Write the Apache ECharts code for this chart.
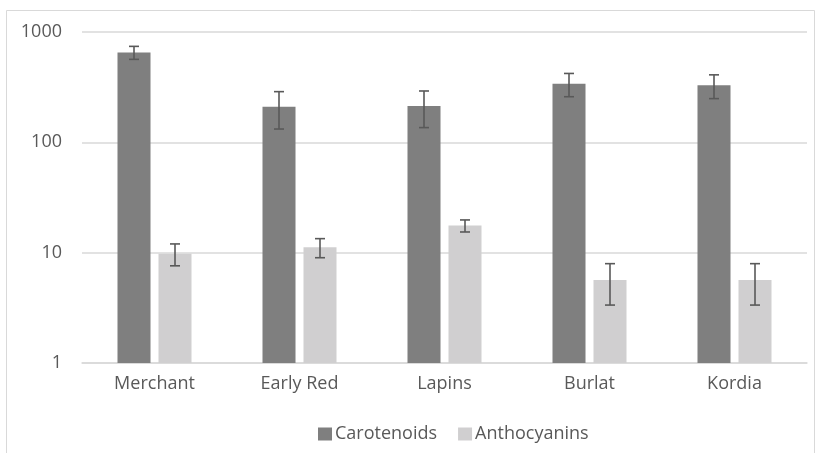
<!DOCTYPE html>
<html>
<head>
<meta charset="utf-8">
<script src="https://cdn.jsdelivr.net/npm/echarts@6/dist/echarts.min.js"></script>
<style>
  html, body { margin: 0; padding: 0; background: #fff; }
  #chart { width: 822px; height: 453px; }
</style>
</head>
<body>
<div id="chart"></div>
<script>
// Cultivars and measured pigment contents (log scale), with standard deviations
const categories = ['Merchant', 'Early Red', 'Lapins', 'Burlat', 'Kordia'];
const carotenoids = [653, 210, 214, 340, 329];
const carotenoidsSd = [88, 78, 78, 81, 80];
const anthocyanins = [9.8, 11.2, 17.6, 5.65, 5.65];
const anthocyaninsSd = [2.2, 2.2, 2.2, 2.3, 2.3];
const yTicks = [1, 10, 100, 1000];

const FONT = '"Open Sans", sans-serif';
const TEXT = '#595959';
const BAR_W = 33;
const BAR_GAP = 8;

function errorSeries(name, means, sds, side) {
  return {
    type: 'custom',
    name: name + ' SD',
    z: 5,
    silent: true,
    data: means.map((m, i) => [i, m - sds[i], m + sds[i]]),
    renderItem: function (params, api) {
      const idx = api.value(0);
      const lo = api.coord([idx, api.value(1)]);
      const hi = api.coord([idx, api.value(2)]);
      const x = lo[0] + side * (BAR_W + BAR_GAP) / 2;
      const cap = 5;
      const style = { stroke: '#595959', lineWidth: 1.6 };
      return {
        type: 'group',
        children: [
          { type: 'line', shape: { x1: x, y1: hi[1], x2: x, y2: lo[1] }, style: style },
          { type: 'line', shape: { x1: x - cap, y1: hi[1], x2: x + cap, y2: hi[1] }, style: style },
          { type: 'line', shape: { x1: x - cap, y1: lo[1], x2: x + cap, y2: lo[1] }, style: style }
        ]
      };
    }
  };
}

const chart = echarts.init(document.getElementById('chart'), null, { renderer: 'canvas' });
chart.setOption({
  animation: false,
  backgroundColor: '#fff',
  graphic: [{
    type: 'rect',
    shape: { x: 6.5, y: 10.5, width: 808, height: 460 },
    style: { fill: 'none', stroke: '#d9d9d9', lineWidth: 1 },
    silent: true
  }],
  grid: { left: 82, right: 15, top: 32, bottom: 90 },
  legend: {
    left: 313,
    top: 420,
    itemWidth: 14,
    itemHeight: 13,
    itemGap: 21,
    icon: 'rect',
    data: ['Carotenoids', 'Anthocyanins'],
    textStyle: { fontFamily: FONT, fontSize: 18, color: TEXT, padding: [0, 0, 0, -2] }
  },
  xAxis: {
    type: 'category',
    data: categories,
    axisLine: { lineStyle: { color: '#d9d9d9', width: 1.5 } },
    axisTick: { show: false },
    axisLabel: { fontFamily: FONT, fontSize: 18, color: TEXT, margin: 12 }
  },
  yAxis: {
    type: 'log',
    logBase: 10,
    min: yTicks[0],
    max: yTicks[yTicks.length - 1],
    axisLine: { show: false },
    axisTick: { show: false },
    splitLine: { lineStyle: { color: '#d9d9d9', width: 1.5 } },
    axisLabel: {
      fontFamily: FONT, fontSize: 18, color: TEXT, margin: 20,
      formatter: v => (yTicks.indexOf(v) >= 0 ? String(v) : '')
    }
  },
  series: [
    {
      name: 'Carotenoids', type: 'bar', data: carotenoids,
      barWidth: BAR_W, barGap: (BAR_GAP / BAR_W * 100) + '%',
      itemStyle: { color: '#7f7f7f' }
    },
    {
      name: 'Anthocyanins', type: 'bar', data: anthocyanins,
      barWidth: BAR_W,
      itemStyle: { color: '#d0cfd0' }
    },
    errorSeries('Carotenoids', carotenoids, carotenoidsSd, -1),
    errorSeries('Anthocyanins', anthocyanins, anthocyaninsSd, 1)
  ]
});
</script>
</body>
</html>
